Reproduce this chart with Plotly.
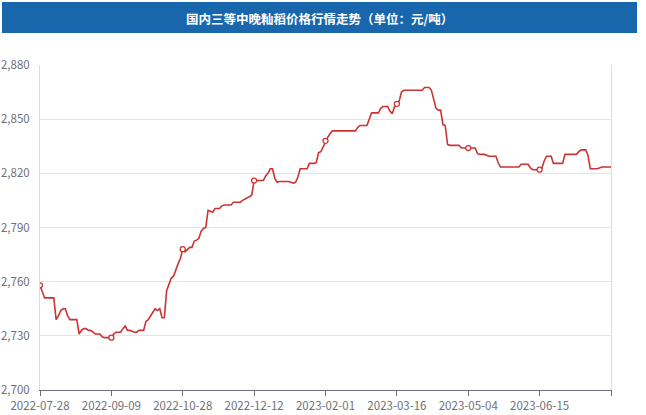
import plotly.graph_objects as go

title_text = "国内三等中晚籼稻价格行情走势（单位：元/吨）"

tick_labels = ["2022-07-28", "2022-09-09", "2022-10-28", "2022-12-12",
               "2023-02-01", "2023-03-16", "2023-05-04", "2023-06-15"]
label_step = 31

prices = [
    2758, 2755, 2751, 2751, 2751, 2751, 2751, 2739, 2741, 2744,
    2745, 2745, 2741, 2739, 2739, 2739, 2739, 2731, 2733, 2734,
    2734, 2733, 2733, 2732, 2731, 2731, 2731, 2729.5, 2729, 2729,
    2729, 2729, 2731, 2732, 2732, 2732, 2734, 2735.5, 2733, 2733,
    2732.5, 2732, 2732, 2733, 2733, 2733, 2738, 2739, 2741, 2743,
    2745, 2744, 2745, 2740, 2740, 2755, 2759, 2762, 2763, 2767,
    2770, 2773, 2778, 2776.5, 2778, 2779, 2779, 2782.5, 2783, 2784,
    2788, 2789.5, 2790, 2799.5, 2799, 2798.5, 2800.5, 2800.5, 2800.5, 2802,
    2802.5, 2802.5, 2802.5, 2802.5, 2804, 2804, 2804, 2804, 2805, 2806,
    2806.5, 2807, 2808, 2816, 2816, 2816, 2816, 2816, 2818.5, 2820,
    2822.5, 2822.5, 2817, 2815, 2815.5, 2815.5, 2815.5, 2815.5, 2815.5, 2815,
    2814.5, 2815, 2818, 2822.5, 2822.5, 2822.5, 2822.5, 2825.5, 2825.5, 2825.5,
    2826, 2831.5, 2832, 2835, 2838, 2840, 2842, 2843.5, 2843.5, 2843.5,
    2843.5, 2843.5, 2843.5, 2843.5, 2843.5, 2843.5, 2843.5, 2843.5, 2845.5, 2846.5,
    2846.5, 2846.5, 2846.5, 2850, 2853.5, 2853.5, 2853.5, 2853.5, 2856, 2857,
    2857, 2857, 2854.5, 2853, 2857, 2858.5, 2860, 2865, 2866, 2866,
    2866, 2866, 2866, 2866, 2866, 2866, 2866, 2867.5, 2867.5, 2867.5,
    2866, 2861, 2856, 2855, 2855, 2847, 2846.5, 2836, 2835.5, 2835.5,
    2835.5, 2835.5, 2835.5, 2834, 2834, 2834, 2834, 2834, 2834, 2834,
    2831, 2830.5, 2830.5, 2830.5, 2830, 2829.5, 2829.5, 2829.5, 2829.5, 2826,
    2823.5, 2823.5, 2823.5, 2823.5, 2823.5, 2823.5, 2823.5, 2823.5, 2823.5, 2825,
    2825, 2825, 2825, 2823, 2822, 2822, 2822, 2822, 2823, 2827,
    2829.5, 2829.5, 2829.5, 2825.5, 2825.5, 2825.5, 2825.5, 2825.5, 2830.5, 2830.5,
    2830.5, 2830.5, 2830.5, 2830.5, 2832, 2833, 2833, 2833, 2830, 2822.5,
    2822.5, 2822.5, 2822.5, 2823, 2823.5, 2823.5, 2823.5, 2823.5, 2823.5,
]

y_ticks = [2700, 2730, 2760, 2790, 2820, 2850, 2880]

LINE_COLOR = "#CC3333"
AXIS_TEXT = "#6E7079"
GRID = "#E0E6F1"
FONT = "Noto Sans CJK SC"

x_idx = list(range(len(prices)))
mark_idx = [i * label_step for i in range(len(tick_labels))]
last = len(prices) - 1
tickvals = mark_idx + ([last] if last not in mark_idx else [])
ticktext = tick_labels + ([""] if last not in mark_idx else [])

fig = go.Figure()
fig.add_trace(go.Scatter(
    x=x_idx, y=prices, mode="lines",
    line=dict(color=LINE_COLOR, width=1.6),
    hoverinfo="skip", showlegend=False,
))
fig.add_trace(go.Scatter(
    x=mark_idx, y=[prices[i] for i in mark_idx], mode="markers",
    marker=dict(symbol="circle", size=5, color="white",
                line=dict(color=LINE_COLOR, width=1.3)),
    showlegend=False,
))

W, H = 646, 415
ml, mr, mt, mb = 40, 35, 65, 25
pw, ph = W - ml - mr, H - mt - mb

def px_x(p):
    return (p - ml) / pw

def px_y(p):
    return (H - mb - p) / ph

fig.add_shape(type="rect", xref="paper", yref="paper",
              x0=px_x(2), x1=px_x(637), y0=px_y(33), y1=px_y(2),
              fillcolor="#1866AB", line=dict(width=0), layer="below")
fig.add_annotation(text=title_text, xref="paper", yref="paper",
                   x=px_x(319), y=px_y(18), showarrow=False,
                   xanchor="center", yanchor="middle",
                   font=dict(family=FONT, size=12.5, color="white", weight="bold"))

fig.update_layout(
    width=W, height=H,
    margin=dict(l=ml, r=mr, t=mt, b=mb, autoexpand=False),
    paper_bgcolor="white", plot_bgcolor="white",
    font=dict(family=FONT, color=AXIS_TEXT, size=11.5),
    xaxis=dict(
        range=[0, last], tickmode="array", tickvals=tickvals, ticktext=ticktext,
        showgrid=False, zeroline=False, automargin=False,
        showline=True, linecolor=AXIS_TEXT, linewidth=1,
        ticks="outside", ticklen=5, tickcolor=AXIS_TEXT,
        tickfont=dict(family=FONT, size=11.5, color=AXIS_TEXT),
    ),
    yaxis=dict(
        range=[2700, 2880], tickmode="array", tickvals=y_ticks,
        tickformat=",d", automargin=False,
        showgrid=True, gridcolor=GRID, gridwidth=1, zeroline=False,
        showline=True, linecolor="#DADDE6", mirror=True,
        ticks="", ticklabelstandoff=7,
        tickfont=dict(family=FONT, size=11.5, color=AXIS_TEXT),
    ),
)

fig.write_html(
    "out.html",
    config={"displayModeBar": False},
    post_script="document.body.style.margin='0';document.body.style.overflow='hidden';",
)
